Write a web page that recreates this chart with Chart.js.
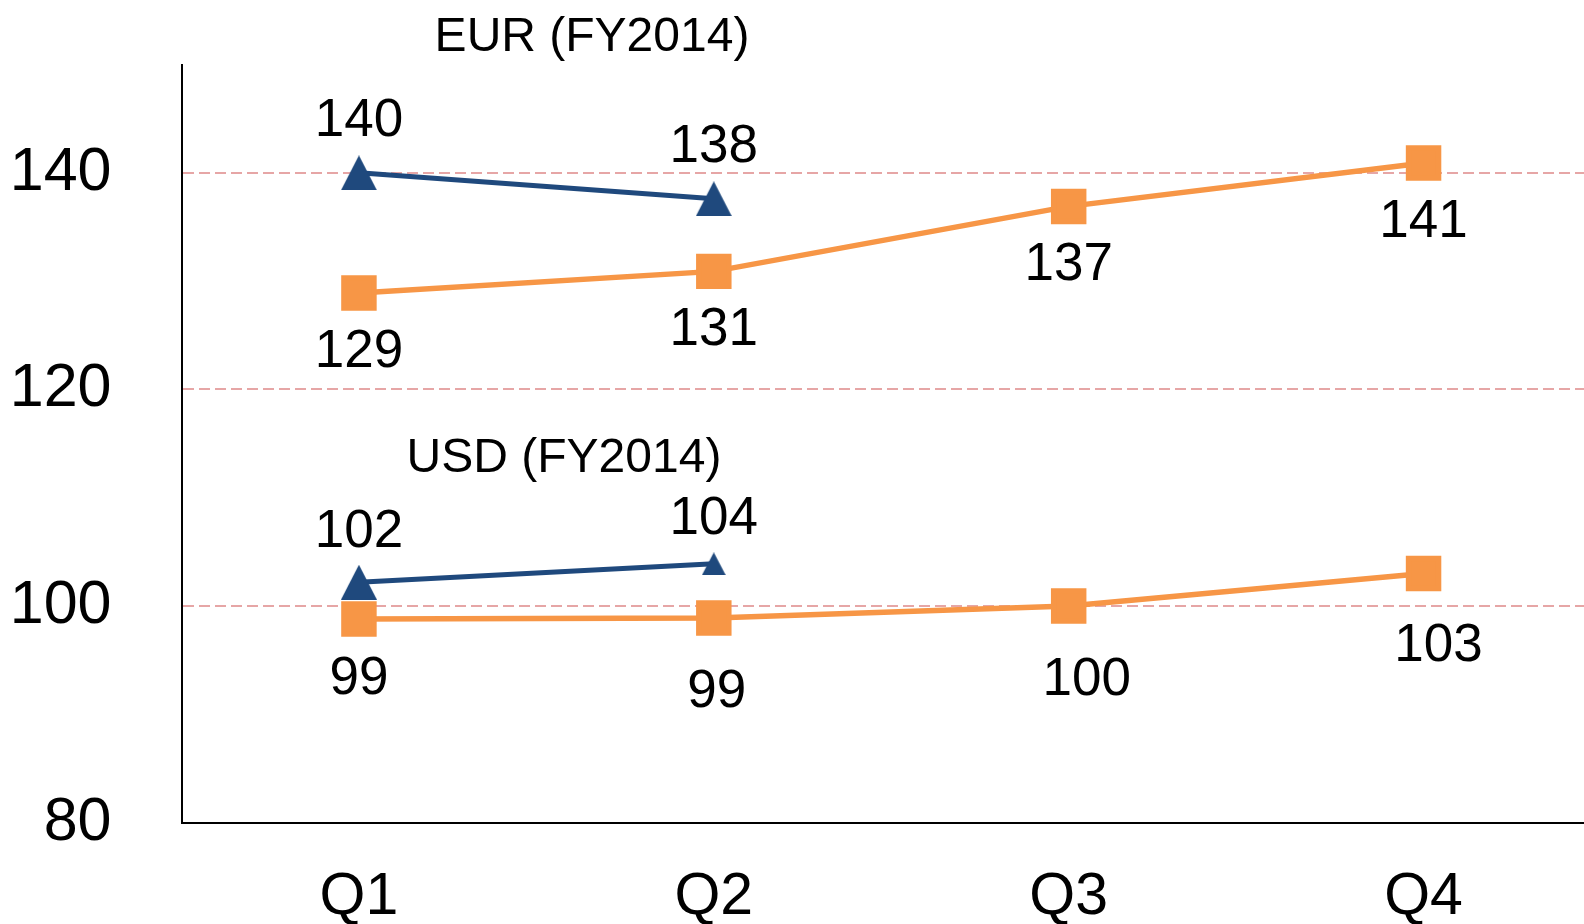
<!DOCTYPE html>
<html>
<head>
<meta charset="utf-8">
<script src="https://cdn.jsdelivr.net/npm/chart.js@4"></script>
<style>
  html, body { margin: 0; padding: 0; background: #fff; overflow: hidden; }
  #myChart { display: block; }
</style>
</head>
<body>
<canvas id="myChart" width="1601" height="924"></canvas>
<script>
var quarters = ["Q1", "Q2", "Q3", "Q4"];
var eur2014 = [140.0, 137.6, null, null];
var eur2013 = [128.9, 130.9, 136.9, 140.9];
var usd2014 = [102.2, 103.9, null, null];
var usd2013 = [98.8, 98.9, 100.0, 103.0];
var yTicks = [80, 100, 120, 140];

var blue = "#1F497D";
var orange = "#F79646";
var fontFamily = "'Liberation Sans', Arial, sans-serif";

// triangle markers as little canvases (centered on the point)
function triangle(w, h) {
  var c = document.createElement("canvas");
  c.width = w;
  c.height = h;
  var g = c.getContext("2d");
  g.fillStyle = blue;
  g.beginPath();
  g.moveTo(w / 2, 0);
  g.lineTo(w, h);
  g.lineTo(0, h);
  g.closePath();
  g.fill();
  return c;
}
var bigTri = triangle(36, 35);
var smallTri = triangle(24, 23);

// value labels next to each point
var valueLabels = {
  id: "valueLabels",
  afterDatasetsDraw: function (chart) {
    var ctx = chart.ctx;
    ctx.save();
    ctx.font = "53px " + fontFamily;
    ctx.fillStyle = "#000";
    ctx.textAlign = "center";
    ctx.textBaseline = "alphabetic";
    chart.data.datasets.forEach(function (ds, i) {
      var meta = chart.getDatasetMeta(i);
      meta.data.forEach(function (pt, j) {
        var v = ds.data[j];
        if (v === null || v === undefined) return;
        var n = ds.labelNudge[j];
        ctx.fillText(String(Math.round(v)), pt.x + n[0], pt.y + n[1]);
      });
    });
    ctx.restore();
  }
};

// the two series titles
var seriesTitles = {
  id: "seriesTitles",
  afterDraw: function (chart) {
    var ctx = chart.ctx;
    ctx.save();
    ctx.font = "48px " + fontFamily;
    ctx.fillStyle = "#000";
    ctx.textAlign = "center";
    ctx.textBaseline = "alphabetic";
    ctx.fillText("EUR (FY2014)", 592, 51);
    ctx.fillText("USD (FY2014)", 564, 472);
    ctx.restore();
  }
};

new Chart("myChart", {
  type: "line",
  data: {
    labels: quarters,
    datasets: [{
      label: "EUR FY2014",
      data: eur2014,
      borderColor: blue,
      backgroundColor: blue,
      borderWidth: 5,
      pointStyle: bigTri,
      labelNudge: [[0, -37], [0, -37], [0, 0], [0, 0]]
    }, {
      label: "USD FY2014",
      data: usd2014,
      borderColor: blue,
      backgroundColor: blue,
      borderWidth: 5,
      pointStyle: [bigTri, smallTri],
      labelNudge: [[0, -35], [0, -30], [0, 0], [0, 0]]
    }, {
      label: "EUR FY2013",
      data: eur2013,
      borderColor: orange,
      backgroundColor: orange,
      borderWidth: 5.5,
      pointStyle: "rect",
      pointRadius: 21.2,
      labelNudge: [[0, 74], [0, 74], [0, 74], [0, 74]]
    }, {
      label: "USD FY2013",
      data: usd2013,
      borderColor: orange,
      backgroundColor: orange,
      borderWidth: 5.5,
      pointStyle: "rect",
      pointRadius: 21.2,
      labelNudge: [[0, 75], [3, 89], [18, 89], [15, 87]]
    }]
  },
  options: {
    responsive: false,
    animation: false,
    events: [],
    layout: { autoPadding: false, padding: { top: 64.5, right: 0, bottom: 0, left: 0 } },
    plugins: {
      legend: { display: false },
      tooltip: { enabled: false }
    },
    scales: {
      x: {
        offset: true,
        grid: { display: false, drawTicks: false },
        border: { display: true, color: "#000", width: 2 },
        ticks: { color: "#000", font: { family: fontFamily, size: 59 }, padding: 40 },
        afterFit: function (s) {
          s.height = 101.3;
          s.paddingLeft = 0;
          s.paddingRight = 0;
        }
      },
      y: {
        min: 80,
        max: 150,
        afterBuildTicks: function (s) {
          s.ticks = yTicks.map(function (v) { return { value: v }; });
        },
        grid: {
          color: function (c) {
            return c.tick && c.tick.value === 80 ? "rgba(0,0,0,0)" : "#E6A6A6";
          },
          lineWidth: 2,
          drawTicks: false
        },
        border: { display: true, color: "#000", width: 2, dash: [11, 5] },
        ticks: { color: "#000", font: { family: fontFamily, size: 61 }, padding: 70 },
        afterFit: function (s) {
          s.width = 181.5;
          s.paddingTop = 0;
          s.paddingBottom = 0;
        }
      }
    }
  },
  plugins: [valueLabels, seriesTitles]
});
</script>
</body>
</html>
